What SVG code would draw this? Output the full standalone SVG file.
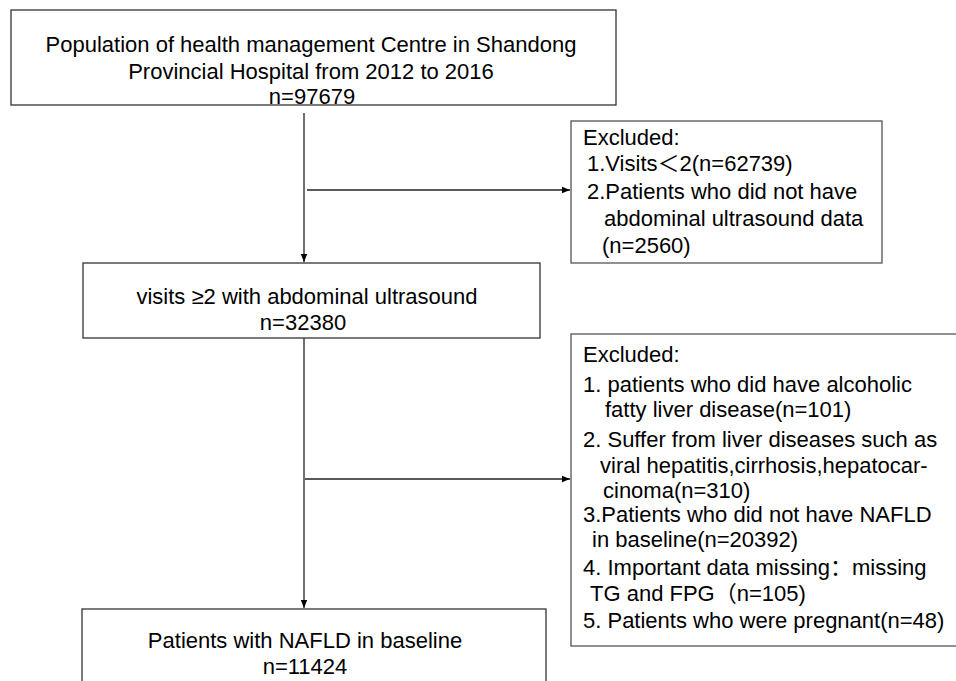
<svg xmlns="http://www.w3.org/2000/svg" width="956" height="681" viewBox="0 0 956 681">
<defs>
<marker id="arr" viewBox="0 0 10 10" refX="10" refY="5" markerWidth="8" markerHeight="8" markerUnits="userSpaceOnUse" orient="auto">
<path d="M0,1 L10,5 L0,9 Z" fill="#000"/>
</marker>
<style>
.box{fill:#fff;stroke:#333;stroke-width:1.3}
.gbox{fill:#fff;stroke:#555;stroke-width:1.3}
.t{font-family:"Liberation Sans",Arial,"Noto Sans CJK SC",sans-serif;font-size:22px;fill:#000}
.c{text-anchor:middle}
.ln{stroke:#222;stroke-width:1.3;fill:none}
</style>
</defs>
<rect width="956" height="681" fill="#fff"/>
<g id="connectors">
<line class="ln" x1="304" y1="113" x2="304" y2="262" marker-end="url(#arr)"/>
<line class="ln" x1="307" y1="190" x2="570" y2="190" marker-end="url(#arr)"/>
<line class="ln" x1="304" y1="338" x2="304" y2="608" marker-end="url(#arr)"/>
<line class="ln" x1="305" y1="479" x2="570" y2="479" marker-end="url(#arr)"/>
</g>
<g id="n1">
<rect class="box" x="11" y="10" width="605" height="95"/>
<text class="t c" x="311" y="52">Population of health management Centre in Shandong</text>
<text class="t c" x="311" y="79">Provincial Hospital from 2012 to 2016</text>
<text class="t c" x="312" y="104">n=97679</text>
</g>
<g id="n2">
<rect class="gbox" x="571" y="121" width="311" height="142"/>
<text class="t" x="583" y="145">Excluded:</text>
<text class="t" x="587" y="171">1.Visits＜2(n=62739)</text>
<text class="t" x="587" y="199">2.Patients who did not have</text>
<text class="t" x="604" y="226">abdominal ultrasound data</text>
<text class="t" x="602" y="253">(n=2560)</text>
</g>
<g id="n3">
<rect class="box" x="83" y="263" width="457" height="75"/>
<text class="t c" x="307" y="304">visits ≥2 with abdominal ultrasound</text>
<text class="t c" x="303" y="330">n=32380</text>
</g>
<g id="n4">
<rect class="gbox" x="571" y="334" width="390" height="312"/>
<text class="t" x="583" y="362">Excluded:</text>
<text class="t" x="583" y="392">1. patients who did have alcoholic</text>
<text class="t" x="605" y="417">fatty liver disease(n=101)</text>
<text class="t" x="583" y="447">2. Suffer from liver diseases such as</text>
<text class="t" x="600" y="473">viral hepatitis,cirrhosis,hepatocar-</text>
<text class="t" x="603" y="498">cinoma(n=310)</text>
<text class="t" x="583" y="522">3.Patients who did not have NAFLD</text>
<text class="t" x="592" y="547">in baseline(n=20392)</text>
<text class="t" x="583" y="575">4. Important data missing：missing</text>
<text class="t" x="590" y="601">TG and FPG（n=105)</text>
<text class="t" x="583" y="628">5. Patients who were pregnant(n=48)</text>
</g>
<g id="n5">
<rect class="box" x="82" y="609" width="464" height="80"/>
<text class="t c" x="305" y="648">Patients with NAFLD in baseline</text>
<text class="t c" x="305" y="674">n=11424</text>
</g>
</svg>
